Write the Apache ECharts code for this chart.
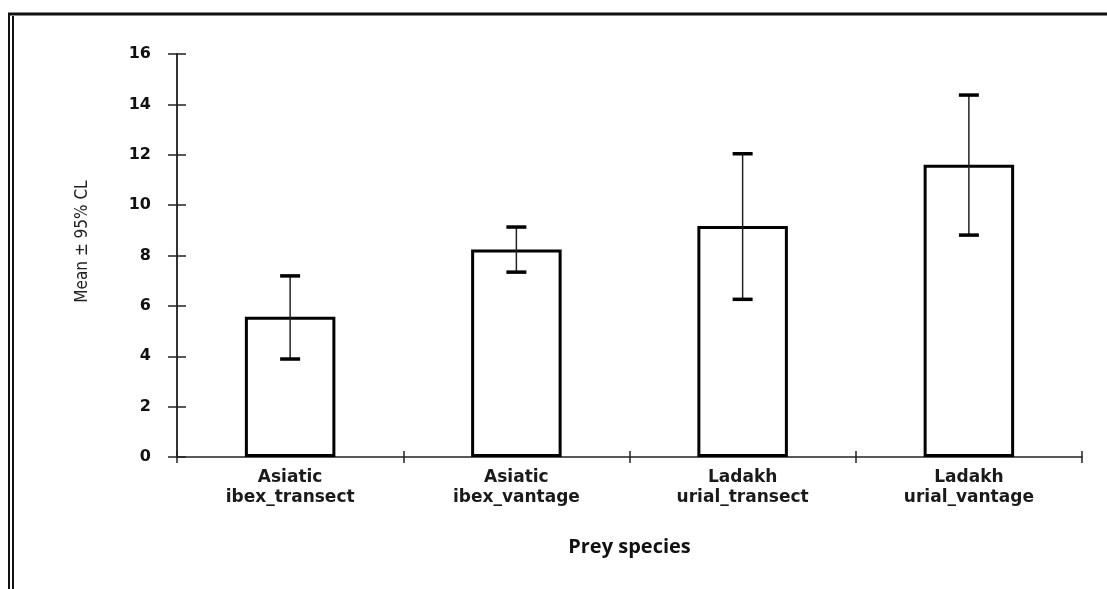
<!DOCTYPE html>
<html>
<head>
<meta charset="utf-8">
<script src="https://cdn.jsdelivr.net/npm/echarts@6/dist/echarts.min.js"></script>
<style>html,body{margin:0;padding:0;background:#fff}#c{width:1107px;height:589px}</style>
</head>
<body>
<div id="c"></div>
<script>
const categories = ['Asiatic\nibex_transect', 'Asiatic\nibex_vantage', 'Ladakh\nurial_transect', 'Ladakh\nurial_vantage'];
const means = [5.57, 8.24, 9.17, 11.6];
const lowerCL = [3.89, 7.34, 6.26, 8.81];
const upperCL = [7.19, 9.13, 12.04, 14.37];
const yTicks = {min: 0, max: 16, interval: 2};

const errData = categories.map((c, i) => [i, lowerCL[i], upperCL[i]]);

const chart = echarts.init(document.getElementById('c'), null, {renderer: 'canvas'});
chart.setOption({
  animation: false,
  backgroundColor: '#fff',
  grid: {left: 177, right: 25, top: 54, bottom: 132},
  graphic: [
    {type: 'line', shape: {x1: 8, y1: 14, x2: 1107, y2: 14}, style: {stroke: '#111', lineWidth: 3}},
    {type: 'line', shape: {x1: 9, y1: 13, x2: 9, y2: 589}, style: {stroke: '#111', lineWidth: 2}},
    {type: 'line', shape: {x1: 13, y1: 16, x2: 13, y2: 589}, style: {stroke: '#111', lineWidth: 2}}
  ],
  xAxis: [{
    type: 'category', data: categories, position: 'bottom',
    axisLine: {lineStyle: {color: '#222', width: 1.5}},
    axisTick: {show: true, inside: false, length: 6, lineStyle: {color: '#222', width: 1.5}},
    axisLabel: {color: '#1a1a1a', fontFamily: 'DejaVu Sans', fontWeight: 'bold', fontSize: 17, lineHeight: 20, margin: 11},
    name: 'Prey species', nameLocation: 'middle', nameGap: 80,
    nameTextStyle: {color: '#111', fontFamily: 'Open Sans', fontWeight: 'bold', fontSize: 20}
  }, {
    type: 'category', data: categories, position: 'bottom',
    axisLine: {show: false},
    axisTick: {show: true, inside: true, length: 6, lineStyle: {color: '#222', width: 1.5}},
    axisLabel: {show: false}
  }],
  yAxis: [{
    type: 'value', min: yTicks.min, max: yTicks.max, interval: yTicks.interval,
    splitLine: {show: false},
    axisLine: {show: true, lineStyle: {color: '#333', width: 2}},
    axisTick: {show: true, inside: false, length: 9, lineStyle: {color: '#222', width: 1.5}},
    axisLabel: {color: '#111', fontFamily: 'DejaVu Sans', fontWeight: 'bold', fontSize: 16, margin: 26},
    name: 'Mean ± 95% CL', nameLocation: 'middle', nameGap: 86, nameRotate: 90,
    nameTextStyle: {color: '#222', fontFamily: 'DejaVu Sans Condensed, Liberation Sans, sans-serif', fontSize: 17, padding: [0, 0, 0, 28]}
  }, {
    type: 'value', min: yTicks.min, max: yTicks.max, interval: yTicks.interval, position: 'left',
    splitLine: {show: false},
    axisLine: {show: false},
    axisTick: {show: true, inside: true, length: 9, lineStyle: {color: '#222', width: 1.5}},
    axisLabel: {show: false}
  }],
  series: [{
    type: 'bar', data: means, barWidth: '40%', xAxisIndex: 0, yAxisIndex: 0,
    itemStyle: {color: '#fff', borderColor: '#000', borderWidth: 3}
  }, {
    type: 'custom', xAxisIndex: 0, yAxisIndex: 0, data: errData, z: 5,
    renderItem: function (params, api) {
      const lo = api.coord([api.value(0), api.value(1)]);
      const hi = api.coord([api.value(0), api.value(2)]);
      const hw = 10;
      return {
        type: 'group',
        children: [
          {type: 'line', shape: {x1: hi[0], y1: hi[1], x2: lo[0], y2: lo[1]}, style: {stroke: '#222', lineWidth: 1.5}},
          {type: 'line', shape: {x1: hi[0] - hw, y1: hi[1], x2: hi[0] + hw, y2: hi[1]}, style: {stroke: '#000', lineWidth: 3.5}},
          {type: 'line', shape: {x1: lo[0] - hw, y1: lo[1], x2: lo[0] + hw, y2: lo[1]}, style: {stroke: '#000', lineWidth: 3.5}}
        ]
      };
    }
  }]
});
</script>
</body>
</html>
